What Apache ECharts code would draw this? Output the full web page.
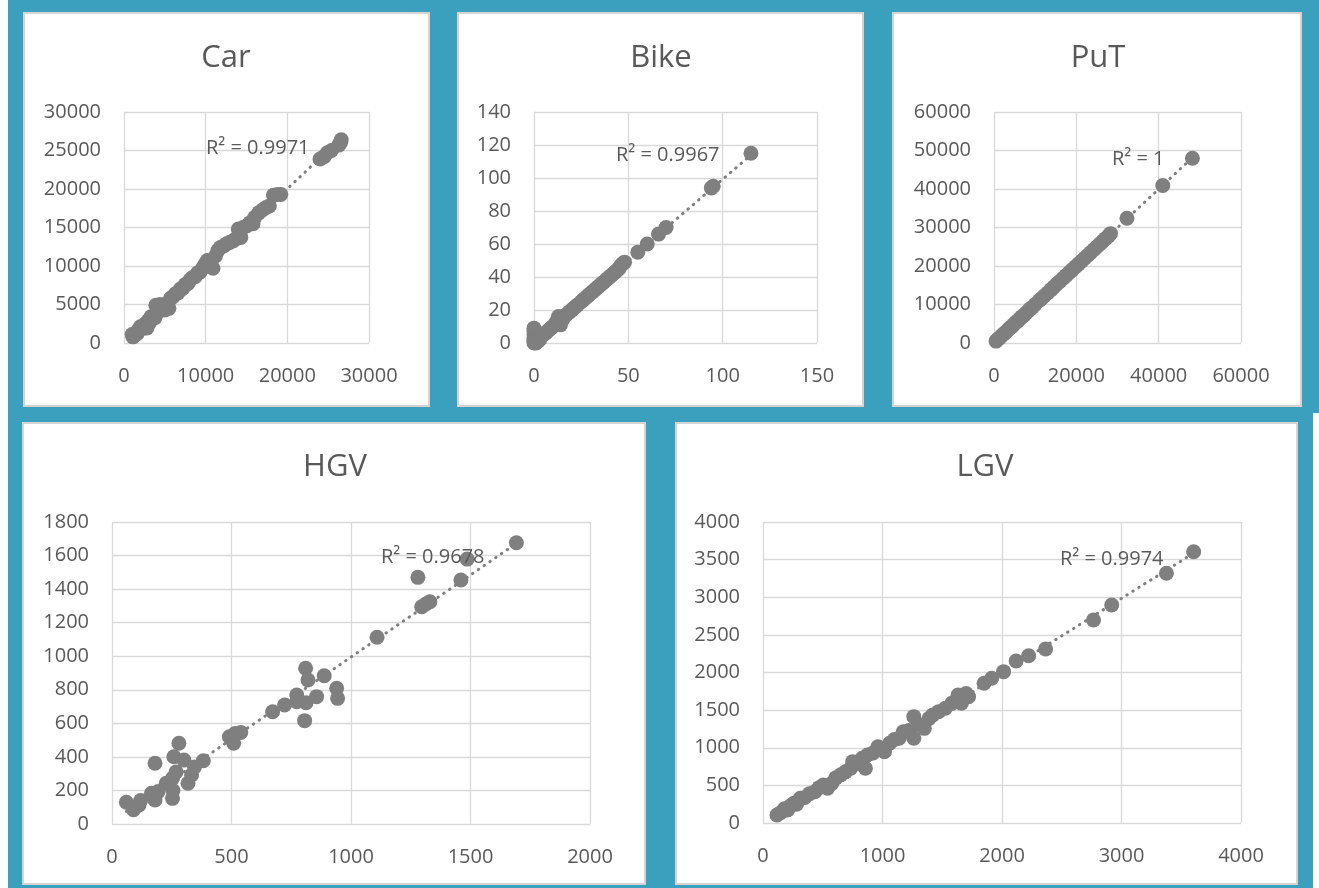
<!DOCTYPE html>
<html>
<head>
<meta charset="utf-8">
<script src="https://cdn.jsdelivr.net/npm/echarts@6/dist/echarts.min.js"></script>
<style>
  html, body { margin: 0; padding: 0; }
  body { width: 1319px; height: 888px; background: #3AA0BD; position: relative; overflow: hidden; }
  .strip { position: absolute; background: #ffffff; }
  .panel { position: absolute; background: #ffffff; border: 2px solid #D4D4D4; box-sizing: border-box; }
  #chart { position: absolute; left: 0; top: 0; width: 1319px; height: 888px; }
</style>
</head>
<body>
<div class="strip" style="left:0;top:0;width:8px;height:888px"></div>
<div class="strip" style="left:1313px;top:413px;width:6px;height:475px"></div>
<div class="panel" style="left:23px;top:12px;width:407px;height:395px"></div>
<div class="panel" style="left:457px;top:12px;width:407px;height:395px"></div>
<div class="panel" style="left:892px;top:12px;width:410px;height:395px"></div>
<div class="panel" style="left:22px;top:422px;width:624px;height:463px"></div>
<div class="panel" style="left:675px;top:422px;width:623px;height:463px"></div>
<div id="chart"></div>
<script>
// Panel titles and fit statistics
const titles = ['Car', 'Bike', 'PuT', 'HGV', 'LGV'];
const rSquared = ['R² = 0.9971', 'R² = 0.9967', 'R² = 1', 'R² = 0.9678', 'R² = 0.9974'];

// Axis ranges: [min, max, interval]
const xRanges = [[0, 30000, 10000], [0, 150, 50], [0, 60000, 20000], [0, 2000, 500], [0, 4000, 1000]];
const yRanges = [[0, 30000, 5000], [0, 140, 20], [0, 60000, 10000], [0, 1800, 200], [0, 4000, 500]];

// Observed pairs [x, y] for each mode
const carPoints = [
  [1000, 1100], [1100, 800], [1200, 900], [1400, 1300], [1600, 1200], [1700, 1600], [2000, 2100],
  [2300, 1900], [2500, 2200], [2600, 2500], [2800, 1950], [3000, 2900], [3100, 2600], [3300, 3400],
  [3600, 3500], [3800, 3300], [3900, 4900], [4100, 4000], [4300, 4400], [4400, 5000], [4600, 4700],
  [4900, 4800], [5000, 4300], [5200, 5100], [5500, 4500], [5700, 5800], [6000, 6000], [6300, 6400],
  [6600, 6500], [6900, 7000], [7200, 7100], [7500, 7600], [7800, 7700], [8100, 8200], [8400, 8500],
  [8700, 8600], [9000, 9100], [9300, 9200], [9600, 9700], [9900, 10200], [10200, 10700], [10500, 10400],
  [10900, 9700], [11200, 11300], [11500, 12000], [11800, 12400], [12200, 12600], [12600, 12900],
  [13000, 13100], [13400, 13300], [13800, 13600], [14000, 14800], [14300, 13700], [14600, 15000],
  [15000, 15200], [15400, 15600], [15800, 15500], [16000, 16300], [16500, 16900], [17000, 17300],
  [17400, 17600], [17800, 17800], [18300, 19200], [18800, 19300], [19200, 19300],
  [24000, 23900], [24500, 24200], [24900, 24700], [25400, 25000], [26300, 25700], [26600, 26400], [26500, 26000]
];
const bikePoints = [
  [0, 0], [0, 1], [0, 2], [0, 3], [0, 5], [0, 7], [0, 9], [1, 0], [1, 2], [2, 1], [2, 3], [3, 2],
  [4, 4], [5, 5], [6, 6], [7, 7], [8, 8], [9, 9], [10, 10], [11, 11], [12, 13], [13, 16], [14, 11],
  [15, 14], [16, 16], [17, 17], [18, 18], [19, 19], [20, 20], [21, 21], [22, 22], [23, 23], [25, 25],
  [26, 26], [27, 27], [28, 28], [29, 29], [30, 30], [31, 31], [32, 32], [33, 33], [34, 34], [35, 35],
  [36, 36], [37, 37], [38, 38], [39, 39], [40, 40], [41, 41], [42, 42], [43, 43], [44, 44], [45, 45],
  [46, 47], [47, 48], [48, 49], [55, 55], [60, 60], [66, 66], [70, 70], [94, 94], [95, 95], [115, 115]
];
const putPoints = [
  [500, 500], [900, 950], [1300, 1250], [1800, 1800], [2300, 2350], [2800, 2750], [3300, 3300],
  [3800, 3850], [4300, 4250], [4800, 4800], [5300, 5350], [5800, 5750], [6300, 6300], [6800, 6850],
  [7300, 7250], [7800, 7800], [8300, 8300], [8800, 8850], [9300, 9300], [10000, 10000], [11000, 11050],
  [11500, 11500], [12200, 12200], [13000, 13000], [13800, 13800], [14500, 14500], [15200, 15250],
  [16000, 16000], [16800, 16800], [17500, 17500], [18300, 18300], [19000, 19000], [19800, 19800],
  [20500, 20500], [21300, 21300], [22000, 22000], [22800, 22800], [23500, 23500], [24300, 24300],
  [25000, 25000], [25700, 25700], [26400, 26400], [27100, 27100], [27800, 27800], [28300, 28400],
  [32300, 32400], [41000, 40900], [48200, 48000]
];
const hgvPoints = [
  [60, 130], [90, 85], [113, 113], [120, 140], [165, 183], [180, 362], [180, 143], [193, 193],
  [227, 243], [253, 153], [253, 272], [259, 401], [280, 481], [268, 310], [255, 200], [301, 381],
  [318, 243], [333, 292], [345, 340], [382, 377], [491, 520], [509, 481], [516, 540], [539, 546],
  [672, 669], [722, 709], [773, 769], [773, 729], [812, 723], [806, 616], [810, 928], [820, 858],
  [856, 759], [888, 884], [940, 809], [944, 749], [1109, 1113], [1280, 1470], [1296, 1295],
  [1313, 1311], [1330, 1325], [1460, 1454], [1486, 1579], [1692, 1676]
];
const lgvPoints = [
  [117, 106], [150, 140], [180, 190], [206, 173], [230, 230], [258, 262], [280, 250], [312, 328],
  [350, 340], [390, 390], [434, 416], [470, 470], [505, 505], [540, 461], [576, 527], [610, 600],
  [650, 640], [690, 680], [734, 727], [751, 815], [800, 790], [830, 860], [857, 727], [874, 904],
  [920, 930], [962, 1014], [1016, 948], [1060, 1060], [1100, 1110], [1139, 1126], [1174, 1213],
  [1220, 1230], [1262, 1413], [1262, 1126], [1300, 1310], [1350, 1258], [1390, 1390], [1421, 1435],
  [1470, 1480], [1526, 1524], [1580, 1590], [1632, 1701], [1660, 1591], [1720, 1679], [1700, 1720],
  [1850, 1857], [1914, 1923], [2013, 2011], [2118, 2153], [2223, 2223], [2365, 2312],
  [2766, 2698], [2918, 2897], [3376, 3318], [3604, 3605]
];
const allPoints = [carPoints, bikePoints, putPoints, hgvPoints, lgvPoints];

// Plot areas and label placement (pixels)
const grids = [
  { left: 124, top: 112, width: 245, height: 231 },
  { left: 534, top: 112, width: 283, height: 231 },
  { left: 994, top: 112, width: 247, height: 231 },
  { left: 112, top: 522, width: 478, height: 302 },
  { left: 763, top: 522, width: 478, height: 301 }
];
const titlePos = [[226, 58], [661, 58], [1098, 58], [335, 467], [985, 467]];
const rLabelPos = [[206, 148], [616, 155], [1112, 159], [381, 557], [1060, 559]];

const TEXT = '#595959';
const GRID = '#D9D9D9';
const MARK = '#7F7F7F';
const FONT = "'Open Sans', sans-serif";

// Least-squares line spanning the observed x range
function trend(pts) {
  const n = pts.length;
  let sx = 0, sy = 0, sxx = 0, sxy = 0, xmin = Infinity, xmax = -Infinity;
  pts.forEach(([x, y]) => {
    sx += x; sy += y; sxx += x * x; sxy += x * y;
    xmin = Math.min(xmin, x); xmax = Math.max(xmax, x);
  });
  const b = (n * sxy - sx * sy) / (n * sxx - sx * sx);
  const a = (sy - b * sx) / n;
  return [[xmin, a + b * xmin], [xmax, a + b * xmax]];
}

const axisCommon = {
  type: 'value',
  axisLine: { show: false },
  axisTick: { show: false },
  splitLine: { show: true, lineStyle: { color: GRID, width: 1.3 } },
  axisLabel: { color: TEXT, fontSize: 20, fontFamily: FONT, margin: 23, formatter: v => String(v) }
};

const xAxis = xRanges.map((r, i) => Object.assign({}, axisCommon, {
  gridIndex: i, min: r[0], max: r[1], interval: r[2]
}));
const yAxis = yRanges.map((r, i) => Object.assign({}, axisCommon, {
  gridIndex: i, min: r[0], max: r[1], interval: r[2]
}));

const series = [];
allPoints.forEach((pts, i) => {
  series.push({
    type: 'line',
    xAxisIndex: i, yAxisIndex: i,
    data: trend(pts),
    showSymbol: false,
    silent: true,
    z: 1,
    lineStyle: { color: MARK, width: 3, type: [0.5, 6.5], cap: 'round' }
  });
  series.push({
    type: 'scatter',
    xAxisIndex: i, yAxisIndex: i,
    data: pts,
    symbol: 'circle',
    symbolSize: 15,
    z: 2,
    itemStyle: { color: MARK, opacity: 1 }
  });
});

const graphic = [];
titles.forEach((t, i) => {
  graphic.push({
    type: 'text', x: titlePos[i][0], y: titlePos[i][1], z: 10,
    style: { text: t, fill: TEXT, font: "31px 'Open Sans', sans-serif", align: 'center', verticalAlign: 'middle' }
  });
  graphic.push({
    type: 'text', x: rLabelPos[i][0], y: rLabelPos[i][1], z: 10,
    style: { text: rSquared[i], fill: TEXT, font: "20px 'Open Sans', sans-serif", align: 'left', verticalAlign: 'middle' }
  });
});

const chart = echarts.init(document.getElementById('chart'), null, { renderer: 'canvas' });
chart.setOption({
  backgroundColor: 'transparent',
  animation: false,
  grid: grids.map(g => Object.assign({ containLabel: false }, g)),
  xAxis: xAxis,
  yAxis: yAxis,
  series: series,
  graphic: graphic
});
</script>
</body>
</html>
